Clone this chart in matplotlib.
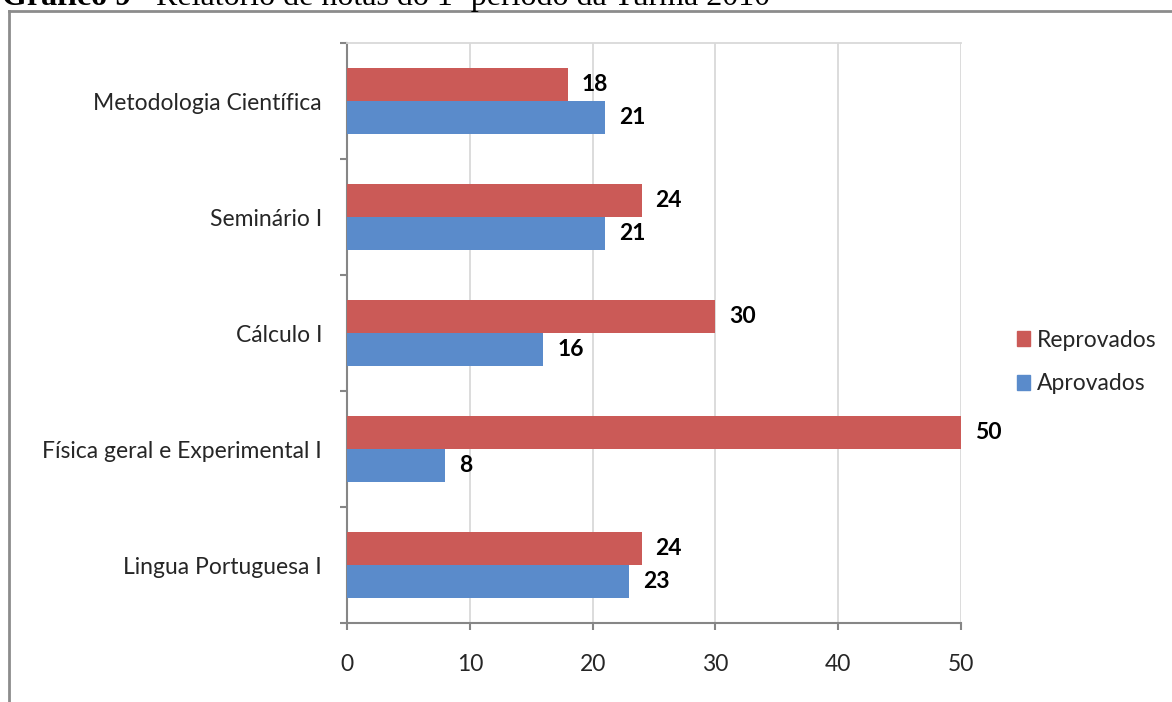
import matplotlib
matplotlib.use("Agg")
import matplotlib.pyplot as plt
from matplotlib.lines import Line2D
from matplotlib.patches import Patch
import numpy as np

disciplinas = ["Lingua Portuguesa I", "Física geral e Experimental I", "Cálculo I",
               "Seminário I", "Metodologia Científica"]
reprovados = [24, 50, 30, 24, 18]
aprovados = [23, 8, 16, 21, 21]
x_ticks = [0, 10, 20, 30, 40, 50]

cor_reprovados = "#CB5A57"
cor_aprovados = "#5A8BCB"
fonte = "Lato"
cor_texto = "#262626"

fig = plt.figure(figsize=(11.72, 7.02), dpi=100)
ax = fig.add_axes([347 / 1172, 1 - 623 / 702, (961 - 347) / 1172, (623 - 43) / 702])

y = np.arange(len(disciplinas))
h = 0.285
b_rep = ax.barh(y + h / 2, reprovados, height=h, color=cor_reprovados, label="Reprovados", zorder=3)
b_apr = ax.barh(y - h / 2, aprovados, height=h, color=cor_aprovados, label="Aprovados", zorder=3)

for bars, vals in ((b_rep, reprovados), (b_apr, aprovados)):
    for bar, v in zip(bars, vals):
        ax.annotate(str(v), (v, bar.get_y() + bar.get_height() / 2),
                    xytext=(10, 0), textcoords="offset points",
                    va="center", ha="left", fontsize=16.5, fontweight="bold",
                    family=fonte, color="black")

ax.set_xlim(0, 50)
ax.set_ylim(-0.5, len(disciplinas) - 0.5)
ax.set_xticks(x_ticks)
ax.set_xticklabels([str(t) for t in x_ticks], family=fonte, fontsize=16.5, color=cor_texto)
ax.set_yticks(y)
ax.set_yticklabels(disciplinas, family=fonte, fontsize=16.5, color=cor_texto)
ax.set_yticks(np.arange(len(disciplinas) + 1) - 0.5, minor=True)
ax.tick_params(axis="y", which="major", length=0, pad=18)
ax.tick_params(axis="y", which="minor", length=5, width=1.5, color="#868686", direction="out")
ax.tick_params(axis="x", which="major", length=5, width=1.5, color="#868686", direction="out", pad=17)

ax.grid(axis="x", color="#D9D9D9", linewidth=1.3, zorder=0)
for s in ("left", "bottom"):
    ax.spines[s].set_color("#868686")
    ax.spines[s].set_linewidth(1.5)
ax.spines["top"].set_color("#D9D9D9")
ax.spines["top"].set_linewidth(1.3)
ax.spines["right"].set_visible(False)
ax.set_axisbelow(True)

handles = [Patch(color=cor_reprovados, label="Reprovados"),
           Patch(color=cor_aprovados, label="Aprovados")]
fig.legend(handles=handles, loc="center left", bbox_to_anchor=(996 / 1172, 1 - 362 / 702),
           frameon=False, prop={"family": fonte, "size": 16.5}, handlelength=0.6,
           handleheight=0.6, handletextpad=0.3, labelspacing=1.0, labelcolor=cor_texto)

# moldura do gráfico
fig.add_artist(Line2D([9 / 1172, 9 / 1172], [0, 1 - 11 / 702], color="#8C8C8C",
                      linewidth=2, transform=fig.transFigure))
fig.add_artist(Line2D([9 / 1172, 1], [1 - 11 / 702, 1 - 11 / 702], color="#8C8C8C",
                      linewidth=2, transform=fig.transFigure))

# legenda do documento, recortada no topo da página
fig.text(2 / 1172, 1 - 5 / 702, "Gráfico 9", family="Liberation Serif",
         fontweight="bold", fontsize=23, va="baseline", ha="left")
fig.text(132 / 1172, 1 - 5 / 702, "– Relatório de notas do 1º período da Turma 2010",
         family="Liberation Serif", fontsize=23, va="baseline", ha="left")

fig.savefig("out.png", dpi=100)
